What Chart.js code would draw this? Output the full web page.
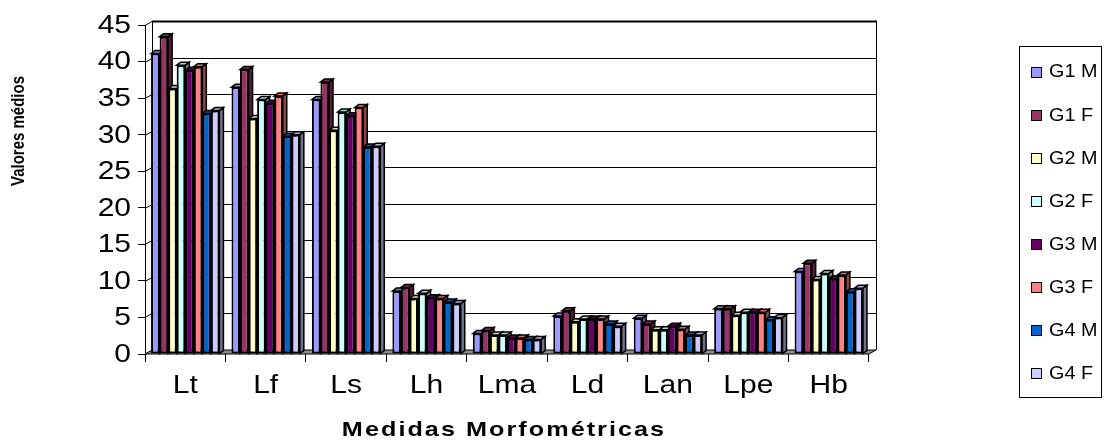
<!DOCTYPE html>
<html>
<head>
<meta charset="utf-8">
<script src="https://cdn.jsdelivr.net/npm/chart.js@4/dist/chart.umd.min.js"></script>
<style>
  html, body { margin: 0; padding: 0; background: #ffffff; }
  #wrap { width: 1105px; height: 441px; }
</style>
</head>
<body>
<div id="wrap"><canvas id="chart" width="1105" height="441"></canvas></div>
<script>
// Morphometric measurements (mean values) per group and sex
const categories = ['Lt', 'Lf', 'Ls', 'Lh', 'Lma', 'Ld', 'Lan', 'Lpe', 'Hb'];
const seriesNames = ['G1 M', 'G1 F', 'G2 M', 'G2 F', 'G3 M', 'G3 F', 'G4 M', 'G4 F'];
const g1m = [41.1, 36.5, 34.8, 8.6, 2.8, 5.2, 4.9, 6.2, 11.3];
const g1f = [43.4, 38.9, 37.2, 9.1, 3.2, 5.9, 4.1, 6.2, 12.4];
const g2m = [36.3, 32.2, 30.6, 7.6, 2.6, 4.4, 3.3, 5.3, 10.2];
const g2f = [39.5, 34.8, 33.1, 8.3, 2.6, 4.8, 3.3, 5.7, 11.0];
const g3m = [38.8, 34.3, 32.6, 7.7, 2.2, 4.8, 3.8, 5.7, 10.3];
const g3f = [39.3, 35.3, 33.7, 7.6, 2.2, 4.8, 3.4, 5.7, 10.8];
const g4m = [32.9, 29.8, 28.3, 7.1, 2.0, 4.1, 2.6, 4.7, 8.5];
const g4f = [33.3, 30.0, 28.4, 6.9, 2.0, 3.8, 2.6, 5.0, 9.0];
const yTicks = [0, 5, 10, 15, 20, 25, 30, 35, 40, 45];

const seriesValues = [g1m, g1f, g2m, g2f, g3m, g3f, g4m, g4f];
const seriesColors = ['#9999FF', '#993366', '#FFFFCC', '#CCFFFF', '#660066', '#FF8080', '#0066CC', '#CCCCFF'];

const FONT = '"Liberation Sans", Arial, sans-serif';
const WALL_DX = 7, WALL_DY = -4;   // depth of the back wall
const BAR_DX = 4, BAR_DY = -3;     // depth of each column

function shade(hex, f) {
  const n = parseInt(hex.slice(1), 16);
  const r = Math.round(((n >> 16) & 255) * f);
  const g = Math.round(((n >> 8) & 255) * f);
  const b = Math.round((n & 255) * f);
  return `rgb(${r},${g},${b})`;
}

// draws text widened horizontally; align is 'left' | 'center' | 'right'
function wideText(ctx, text, x, y, align, stretch, spacing = 0) {
  const chars = [...text];
  const widths = chars.map(c => ctx.measureText(c).width);
  const total = (widths.reduce((a, b) => a + b, 0) + spacing * (chars.length - 1)) * stretch;
  const start = align === 'center' ? x - total / 2 : align === 'right' ? x - total : x;
  ctx.save();
  ctx.translate(start, y);
  ctx.scale(stretch, 1);
  ctx.textAlign = 'left';
  if (spacing === 0) {
    ctx.fillText(text, 0, 0);
  } else {
    let px = 0;
    chars.forEach((c, i) => { ctx.fillText(c, px, 0); px += widths[i] + spacing; });
  }
  ctx.restore();
}

// Back wall, side wall, floor and the depth faces of the columns
const walls3d = {
  id: 'walls3d',
  beforeDatasetsDraw(chart) {
    const { ctx, chartArea: a, scales: { y } } = chart;
    ctx.save();
    ctx.lineWidth = 1;
    ctx.strokeStyle = '#000';
    yTicks.forEach(v => {
      const py = Math.round(y.getPixelForValue(v)) + 0.5;
      ctx.beginPath();
      ctx.moveTo(a.left, py);
      ctx.lineTo(a.left + WALL_DX, py + WALL_DY);
      if (v > 0) ctx.lineTo(a.right + WALL_DX, py + WALL_DY);
      ctx.stroke();
    });
    const top = Math.round(y.getPixelForValue(45)) + 0.5;
    ctx.beginPath();
    ctx.moveTo(a.left + WALL_DX + 0.5, top + WALL_DY);
    ctx.lineTo(a.left + WALL_DX + 0.5, a.bottom + WALL_DY);
    ctx.moveTo(a.right + WALL_DX + 0.5, top + WALL_DY);
    ctx.lineTo(a.right + WALL_DX + 0.5, a.bottom + WALL_DY);
    ctx.stroke();
    ctx.lineWidth = 2;
    ctx.beginPath();
    ctx.moveTo(a.left + WALL_DX, top + WALL_DY);
    ctx.lineTo(a.right + WALL_DX + 1, top + WALL_DY);
    ctx.stroke();
    // floor
    ctx.lineWidth = 1;
    ctx.fillStyle = '#8c8c8c';
    ctx.beginPath();
    ctx.moveTo(a.left, a.bottom);
    ctx.lineTo(a.right, a.bottom);
    ctx.lineTo(a.right + WALL_DX, a.bottom + WALL_DY);
    ctx.lineTo(a.left + WALL_DX, a.bottom + WALL_DY);
    ctx.closePath();
    ctx.fill();
    ctx.stroke();

    // column depth faces (top and right side)
    ctx.lineWidth = 1.5;
    chart.data.datasets.forEach((ds, i) => {
      const meta = chart.getDatasetMeta(i);
      meta.data.forEach(bar => {
        const { x, y: ty, base, width } = bar.getProps(['x', 'y', 'base', 'width'], true);
        const l = x - width / 2, r = x + width / 2;
        ctx.fillStyle = shade(ds.backgroundColor, 0.55);
        ctx.beginPath();
        ctx.moveTo(r, ty);
        ctx.lineTo(r + BAR_DX, ty + BAR_DY);
        ctx.lineTo(r + BAR_DX, base + BAR_DY);
        ctx.lineTo(r, base);
        ctx.closePath();
        ctx.fill();
        ctx.stroke();
        ctx.fillStyle = shade(ds.backgroundColor, 0.85);
        ctx.beginPath();
        ctx.moveTo(l, ty);
        ctx.lineTo(l + BAR_DX, ty + BAR_DY);
        ctx.lineTo(r + BAR_DX, ty + BAR_DY);
        ctx.lineTo(r, ty);
        ctx.closePath();
        ctx.fill();
        ctx.stroke();
      });
    });
    ctx.restore();
  },
  afterDraw(chart) {
    const { ctx, scales: { x, y } } = chart;
    ctx.save();
    ctx.fillStyle = '#000';

    // tick labels, placed from the scales
    ctx.font = `25px ${FONT}`;
    ctx.textBaseline = 'middle';
    y.ticks.forEach(t => {
      wideText(ctx, String(t.value), 131, y.getPixelForValue(t.value) + 1, 'right', 1.2);
    });
    ctx.textBaseline = 'alphabetic';
    categories.forEach((c, i) => {
      wideText(ctx, c, x.getPixelForTick(i), 393, 'center', 1.2);
    });

    // axis titles
    ctx.font = `bold 21px ${FONT}`;
    wideText(ctx, 'Medidas Morfométricas', 503, 436, 'center', 1.2, 1.7);
    ctx.save();
    ctx.translate(19, 131);
    ctx.rotate(-Math.PI / 2);
    ctx.scale(1, 1.25);
    ctx.font = `bold 15px ${FONT}`;
    ctx.textBaseline = 'middle';
    ctx.textAlign = 'center';
    ctx.fillText('Valores médios', 0, 0);
    ctx.restore();

    // legend
    ctx.strokeStyle = '#000';
    ctx.lineWidth = 1;
    ctx.strokeRect(1019.5, 46.5, 82, 351);
    ctx.font = `18px ${FONT}`;
    ctx.textBaseline = 'middle';
    chart.data.datasets.forEach((ds, i) => {
      const cy = 71.5 + i * 43.1;
      ctx.fillStyle = ds.backgroundColor;
      ctx.fillRect(1031, Math.round(cy - 5), 10, 10);
      ctx.strokeRect(1031.5, Math.round(cy - 5) + 0.5, 10, 10);
      ctx.fillStyle = '#000';
      wideText(ctx, ds.label, 1049, cy + 1, 'left', 1.1);
    });
    ctx.restore();
  }
};

new Chart(document.getElementById('chart'), {
  type: 'bar',
  data: {
    labels: categories,
    datasets: seriesValues.map((vals, i) => ({
      label: seriesNames[i],
      data: vals,
      backgroundColor: seriesColors[i],
      borderColor: '#000',
      borderWidth: 2,
      borderSkipped: false,
      categoryPercentage: 0.85,
      barPercentage: 1.0
    }))
  },
  options: {
    responsive: false,
    devicePixelRatio: 1,
    animation: false,
    layout: { padding: { top: 25, right: 236, left: 0, bottom: 0 } },
    plugins: { legend: { display: false }, title: { display: false }, tooltip: { enabled: false } },
    scales: {
      y: {
        min: 0, max: 45,
        afterBuildTicks(s) { s.ticks = yTicks.map(v => ({ value: v })); },
        afterFit(s) { s.width = 145; },
        grid: { drawOnChartArea: false, drawTicks: true, tickLength: 7, color: '#000', lineWidth: 1 },
        border: { display: true, color: '#000', width: 1 },
        ticks: { color: 'rgba(0,0,0,0)', font: { family: FONT, size: 25 }, padding: 3 }
      },
      x: {
        afterFit(s) { s.height = 87; },
        grid: { offset: true, drawOnChartArea: false, drawTicks: true, tickLength: 8, color: '#000', lineWidth: 1 },
        border: { display: false },
        ticks: { color: 'rgba(0,0,0,0)', font: { family: FONT, size: 25 }, padding: 8 }
      }
    }
  },
  plugins: [walls3d]
});
</script>
</body>
</html>
